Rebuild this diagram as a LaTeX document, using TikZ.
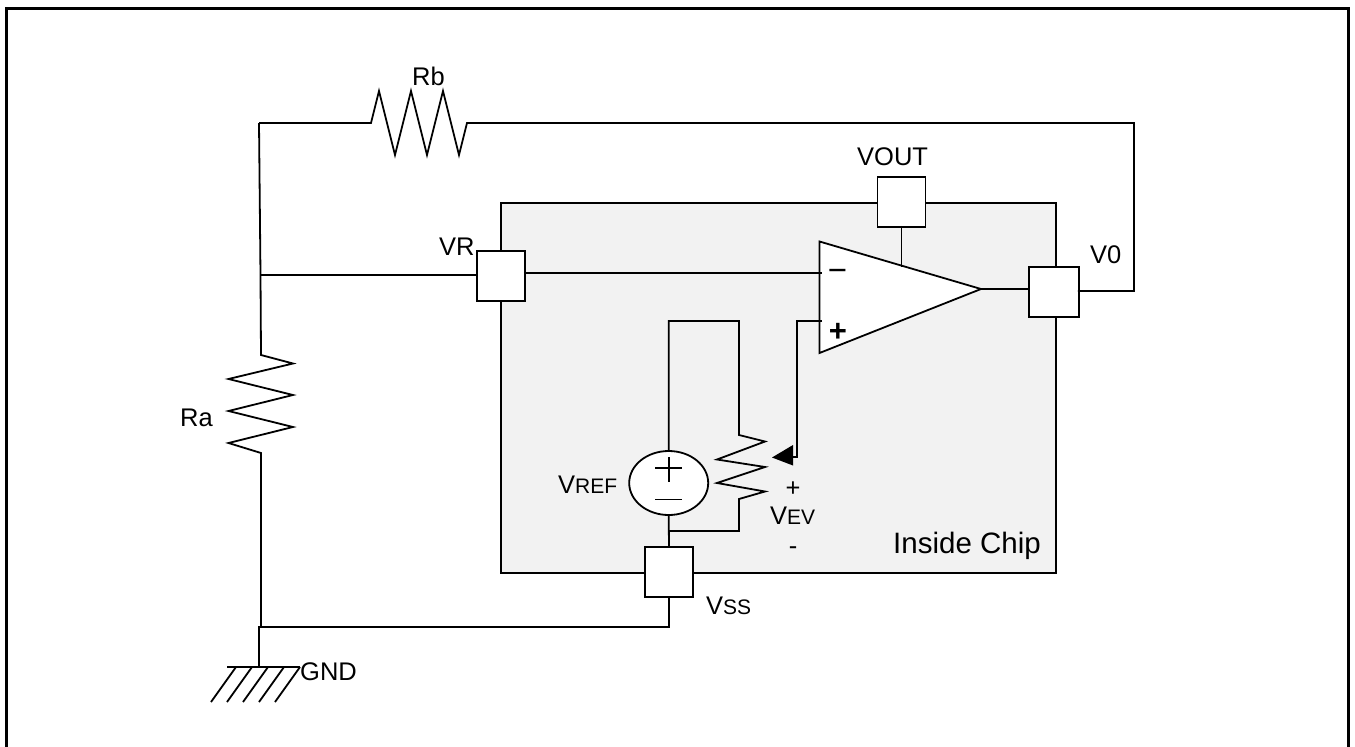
\documentclass[tikz,border=0pt]{standalone}
\usepackage{fontspec}
\usetikzlibrary{shapes.geometric}
\setmainfont{Liberation Sans}
\newcommand{\lblfont}{\fontsize{25.5}{28}\selectfont}
\newcommand{\smalltxt}[1]{{\fontsize{21}{24}\selectfont #1}}
\definecolor{chipgrey}{HTML}{F2F2F2}
\tikzset{
  wire/.style={draw=black,line width=1.8pt,line join=miter},
  pin/.style={draw=black,fill=white,line width=1.8pt,rectangle,minimum width=48pt,minimum height=50pt,inner sep=0pt},
  lbl/.style={anchor=base west,inner sep=0pt,font=\lblfont,text=black},
  clbl/.style={anchor=base,inner sep=0pt,font=\lblfont,text=black},
}
\begin{document}
\begin{tikzpicture}[x=1pt,y=-1pt]
\useasboundingbox (0,0) rectangle (1355,747);
\clip (0,0) rectangle (1355,747);
% frame
\draw[line width=3pt] (6.5,760) -- (6.5,8.5) -- (1348.5,8.5) -- (1348.5,760);
% chip
\node[draw=black,fill=chipgrey,line width=1.8pt,rectangle,inner sep=0pt,minimum width=555pt,minimum height=370pt] (chip) at (778.5,388) {};
% pins
\node[pin] (vout) at (901.5,202) {};
\node[pin,minimum width=50pt] (v0) at (1054,292) {};
\node[pin] (vr) at (501,276) {};
\node[pin] (vss) at (669,572) {};
% op amp
\coordinate (oa1) at (819.5,241.5);
\coordinate (oa2) at (981,289);
\coordinate (oa3) at (819.5,353);
\coordinate (oainm) at (822,273);
\coordinate (oainp) at (822,321);
\coordinate (oatop) at (901.5,267);
\draw[wire,fill=white] (oa1) -- (oa2) -- (oa3) -- cycle;
\node[inner sep=0pt,font=\fontsize{33}{34}\selectfont] (minus) at (837.5,275) {−};
\node[inner sep=0pt,font=\fontsize{31}{32}\selectfont\bfseries] (plus) at (838,332.5) {+};
% op amp wires
\draw[wire] ([yshift=2pt]vout.south) -- (oatop);
\draw[wire] (oa2) -- (v0.west |- oa2);
\draw[wire] ([xshift=-2pt]vr.east |- oainm) -- (oainm);
\coordinate (wiperbend) at (797,321);
\coordinate (wiper) at (793,457);
\draw[wire] (oainp) -- (wiperbend) -- (wiperbend |- wiper) -- (wiper);
\coordinate (arrowtip) at (772,457.5);
\fill[black] (arrowtip) -- (793,445) -- (793,465.5) -- cycle;
% source
\node[draw=black,fill=white,line width=1.8pt,ellipse,inner sep=0pt,minimum width=79pt,minimum height=64pt] (src) at (668.7,483) {};
\draw[wire] (668.7,457) -- (668.7,482);
\draw[wire] (655,468) -- (682,468);
\draw[wire] (655,499.5) -- (682,499.5);
% resistor VEV network
\coordinate (loopL) at (src.north |- 0,321);
\coordinate (loopR) at (739,321);
\coordinate (junc) at (src.south |- 0,531);
\draw[wire] (src.north) -- (loopL) -- (loopR) -- (739,435) -- (765,441.5) -- (717,459.5) -- (765,467) -- (717,483) -- (765,491.5) -- (739,499) -- (739,531) -- (junc);
\draw[wire] (src.south) -- (vss.north);
% Rb
\coordinate (tl) at (259,123);
\coordinate (tr) at (1134,123);
\coordinate (br) at (1134,291);
\draw[wire] (tl) -- (371,123) -- (379,91) -- (395,155) -- (411,91) -- (427,155) -- (443,91) -- (459,155) -- (467,123) -- (tr) -- (br) -- ([xshift=-2pt]v0.east |- br);
% Ra and left wire
\coordinate (lj) at (260.5,275);
\draw[wire] (tl) -- (lj) -- (261,355) -- (293,363.5) -- (228.5,379) -- (293,395) -- (228.5,411) -- (293,427) -- (228.5,443) -- (261,453) -- (261,627);
\draw[wire] (lj) -- (vr.west |- lj);
% bottom
\coordinate (bl) at (259,627);
\coordinate (bb) at (vss.south |- 0,627);
\draw[wire] (vss.south) -- (bb) -- (bl) -- (259,667);
% ground
\coordinate (g1) at (227,667);
\coordinate (g2) at (300,667);
\draw[wire] (g1) -- (g2);
\foreach \tx/\bx in {236/211,252/227,268/243,284/259,300/275}
  \draw[wire] (\tx,667) -- (\bx,702);
% labels
\node[lbl] (lrb) at (412,85) {Rb};
\node[lbl] (lra) at (180,426) {Ra};
\node[lbl] (lvr) at (439,255) {VR};
\node[lbl] (lvout) at (857,165) {VOUT};
\node[lbl] (lv0) at (1090,263) {V0};
\node[lbl] (lvref) at (558,493) {V\smalltxt{REF}};
\node[clbl] (lp) at (793,496) {+};
\node[lbl] (lvev) at (770,524) {V\smalltxt{EV}};
\node[clbl] (lm) at (793,554) {-};
\node[lbl] (lvss) at (706,614) {V\smalltxt{SS}};
\node[lbl] (lgnd) at (300,680) {GND};
\node[lbl,font=\fontsize{29.5}{32}\selectfont] (lchip) at (893,553) {Inside Chip};
\end{tikzpicture}
\end{document}
